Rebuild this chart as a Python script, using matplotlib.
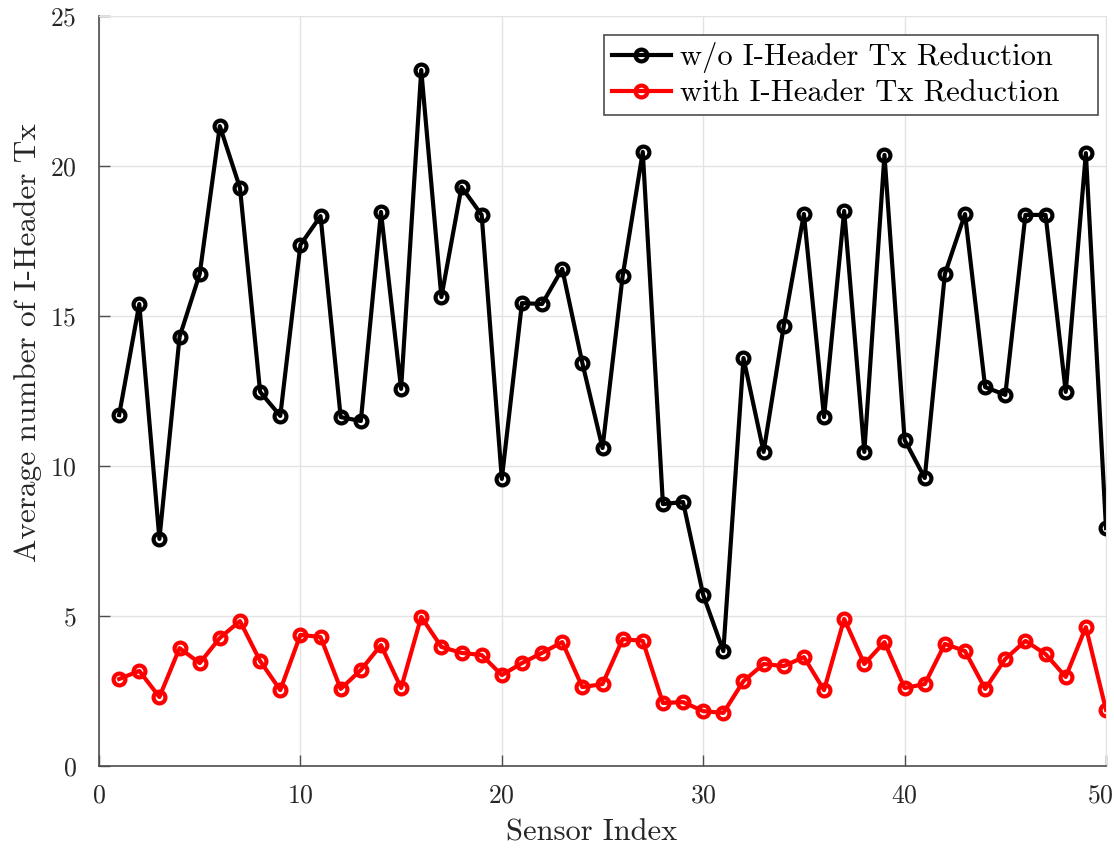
import matplotlib
matplotlib.use("Agg")
import matplotlib.pyplot as plt
from matplotlib.transforms import ScaledTranslation

plt.rcParams["font.family"] = "serif"
plt.rcParams["font.serif"] = ["cmr10"]
plt.rcParams["mathtext.fontset"] = "cm"
plt.rcParams["axes.formatter.use_mathtext"] = True

sensor_index = list(range(1, 51))

tx_without_reduction = [
    11.7, 15.4, 7.57, 14.3, 16.4, 21.33, 19.27, 12.47, 11.67, 17.37,
    18.33, 11.63, 11.5, 18.47, 12.57, 23.2, 15.63, 19.3, 18.37, 9.57,
    15.43, 15.4, 16.57, 13.43, 10.6, 16.33, 20.47, 8.73, 8.8, 5.7,
    3.83, 13.6, 10.47, 14.67, 18.4, 11.63, 18.5, 10.47, 20.37, 10.87,
    9.6, 16.4, 18.4, 12.63, 12.37, 18.37, 18.37, 12.47, 20.43, 7.93,
]

tx_with_reduction = [
    2.9, 3.17, 2.3, 3.93, 3.43, 4.27, 4.83, 3.5, 2.53, 4.37,
    4.3, 2.57, 3.2, 4.03, 2.6, 4.97, 3.97, 3.77, 3.7, 3.03,
    3.43, 3.77, 4.13, 2.63, 2.73, 4.23, 4.17, 2.1, 2.13, 1.83,
    1.77, 2.83, 3.4, 3.33, 3.63, 2.53, 4.9, 3.4, 4.13, 2.6,
    2.73, 4.07, 3.83, 2.57, 3.57, 4.17, 3.73, 2.97, 4.63, 1.87,
]

x_ticks = [0, 10, 20, 30, 40, 50]
y_ticks = [0, 5, 10, 15, 20, 25]

fig = plt.figure(figsize=(11.14, 8.5), dpi=100)
ax = fig.add_axes([99 / 1114, 1 - 766 / 850, (1106 - 99) / 1114, (766 - 16) / 850])

line_kw = dict(lw=3.0, marker="o", ms=8.5, mfc="none", mew=3.0)
ax.plot(sensor_index, tx_without_reduction, color="black",
        label="w/o I-Header Tx Reduction   ", **line_kw)
ax.plot(sensor_index, tx_with_reduction, color="red",
        label="with I-Header Tx Reduction   ", **line_kw)

ax.set_xlim(0, 50)
ax.set_ylim(0, 25)
ax.set_xticks(x_ticks)
ax.set_yticks(y_ticks)
ax.grid(True, color="#e3e3e3", lw=1)
ax.set_axisbelow(True)

for side in ("top", "right"):
    ax.spines[side].set_color("#e3e3e3")
for side in ("left", "bottom"):
    ax.spines[side].set_color("#4d4d4d")
    ax.spines[side].set_linewidth(1.2)

ax.tick_params(direction="in", length=8, width=1, colors="#4d4d4d",
               labelsize=18.5, labelcolor="#262626", top=False, right=False)
ax.tick_params(axis="x", pad=13)
ax.tick_params(axis="y", pad=16)

# keep the rightmost x tick label inside the figure
last_tick = ax.xaxis.get_major_ticks()[-1]
last_tick.label1.set_transform(last_tick.label1.get_transform()
                               + ScaledTranslation(-6 / 100, 0, fig.dpi_scale_trans))

ax.set_xlabel("Sensor Index", fontsize=22, color="#262626", labelpad=8)
ax.xaxis.label.set_x(0.489)
ax.set_ylabel("Average number of I-Header Tx", fontsize=22.5, color="#262626", labelpad=6)
ax.yaxis.label.set_y(0.564)

leg = ax.legend(loc="upper right", fontsize=22, frameon=True, fancybox=False,
                edgecolor="#4d4d4d", framealpha=1, handlelength=1.95,
                borderpad=0.25, labelspacing=0.22, handletextpad=0.3,
                borderaxespad=0, bbox_to_anchor=(0.992, 0.975))
leg.get_frame().set_linewidth(1.2)

fig.savefig("out.png", dpi=100)
